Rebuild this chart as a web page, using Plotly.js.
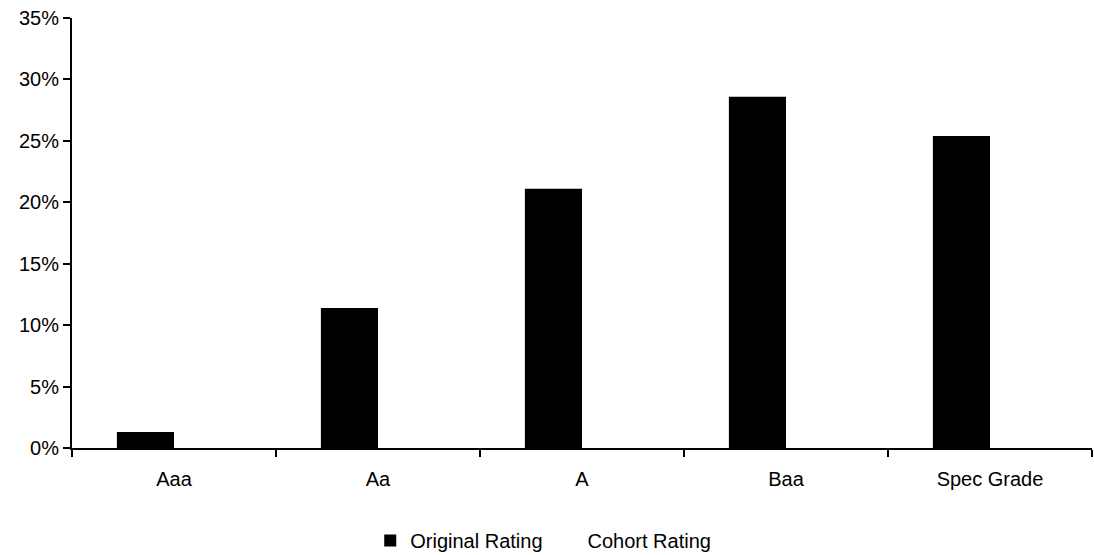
<!DOCTYPE html>
<html>
<head>
<meta charset="utf-8">
<script src="https://cdn.plot.ly/plotly-3.0.1.min.js"></script>
<style>html,body{margin:0;padding:0;background:#fff;}#chart{width:1094px;height:555px;}</style>
</head>
<body>
<div id="chart"></div>
<script>
const categories = ["Aaa", "Aa", "A", "Baa", "Spec Grade"];
const originalRating = [1.3, 11.4, 21.1, 28.6, 25.4];
const cohortRating = [0.2, 3.3, 6.3, 15.0, 21.0];

const font = {family: "Liberation Sans, Arial, sans-serif", size: 20, color: "#000"};

const data = [
  {type: "bar", name: "Original Rating", x: categories, y: originalRating,
   marker: {color: "#000", line: {width: 0}}, hoverinfo: "x+y"},
  {type: "bar", name: "Cohort Rating", x: categories, y: cohortRating,
   marker: {color: "#fff", line: {width: 0}}, hoverinfo: "x+y"}
];

const layout = {
  width: 1094, height: 555,
  margin: {l: 72, r: 2, t: 18, b: 107, autoexpand: false},
  paper_bgcolor: "#fff", plot_bgcolor: "#fff",
  font: font,
  barmode: "group", bargap: 0.44, bargroupgap: 0,
  showlegend: true,
  legend: {orientation: "h", x: 0.462, xanchor: "center", y: -0.17, yanchor: "top",
           font: font, itemwidth: 30, tracegroupgap: 0},
  xaxis: {type: "category", showline: true, linecolor: "#000", linewidth: 2,
          ticks: "outside", tickson: "boundaries", ticklen: 7, tickwidth: 2, tickcolor: "#000",
          ticklabelstandoff: 12, automargin: false,
          showgrid: false, zeroline: false, tickfont: font},
  yaxis: {range: [0, 35], dtick: 5, ticksuffix: "%", showline: true, linecolor: "#000", linewidth: 2,
          ticks: "outside", ticklen: 7, tickwidth: 2, tickcolor: "#000",
          ticklabelstandoff: 0, automargin: false,
          showgrid: false, zeroline: false, tickfont: font}
};

Plotly.newPlot("chart", data, layout, {displayModeBar: false, staticPlot: true});
</script>
</body>
</html>
